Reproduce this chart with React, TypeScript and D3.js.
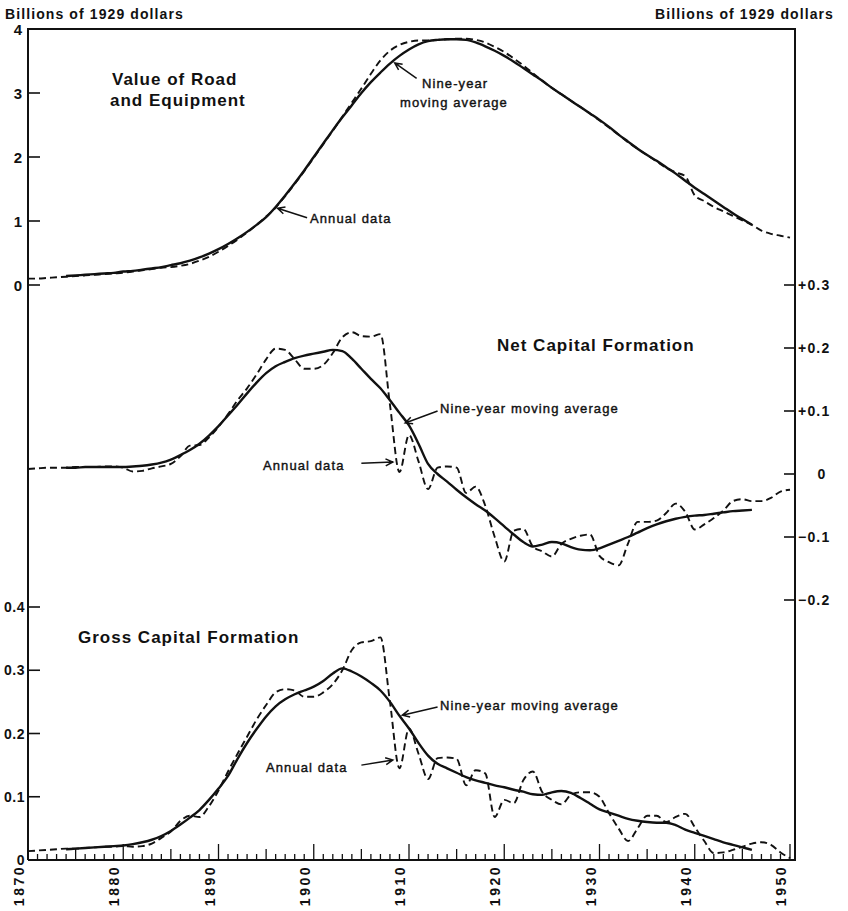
import * as d3 from 'd3';
import { useEffect, useRef } from 'react';

const WIDTH = 848;
const HEIGHT = 911;
const FONT = '"Liberation Sans", Arial, sans-serif';

// annual series run 1870..1950, nine-year averages 1874..1946
const FIRST_YEAR = 1870;
const MA_FIRST_YEAR = 1874;

const roadAnnual = [
  0.10, 0.10, 0.11, 0.12, 0.13, 0.14, 0.15, 0.16, 0.17, 0.18,
  0.19, 0.21, 0.23, 0.25, 0.27, 0.28, 0.30, 0.33, 0.38, 0.44,
  0.52, 0.61, 0.71, 0.82, 0.94, 1.07, 1.21, 1.39, 1.58, 1.78,
  1.99, 2.20, 2.41, 2.63, 2.85, 3.07, 3.30, 3.51, 3.66, 3.75,
  3.80, 3.82, 3.82, 3.83, 3.84, 3.85, 3.85, 3.83, 3.79, 3.72,
  3.64, 3.54, 3.43, 3.31, 3.19, 3.08, 2.98, 2.88, 2.78, 2.68,
  2.57, 2.46, 2.35, 2.23, 2.13, 2.03, 1.93, 1.83, 1.76, 1.70,
  1.40, 1.31, 1.22, 1.15, 1.08, 1.01, 0.94, 0.85, 0.80, 0.77,
  0.74,
];

const roadAverage = [
  0.14, 0.15, 0.16, 0.17, 0.18, 0.19,
  0.21, 0.22, 0.24, 0.26, 0.28, 0.31, 0.34, 0.38, 0.43, 0.49,
  0.56, 0.64, 0.73, 0.83, 0.94, 1.06, 1.22, 1.40, 1.59, 1.79,
  2.00, 2.21, 2.42, 2.62, 2.81, 3.00, 3.17, 3.32, 3.46, 3.58,
  3.68, 3.76, 3.81, 3.83, 3.84, 3.84, 3.83, 3.79, 3.73, 3.66,
  3.58, 3.49, 3.39, 3.29, 3.19, 3.08, 2.98, 2.88, 2.78, 2.68,
  2.58, 2.47, 2.35, 2.24, 2.13, 2.03, 1.94, 1.84, 1.74, 1.63,
  1.52, 1.42, 1.32, 1.22, 1.12, 1.03, 0.94,
];

const netAnnual = [
  0.008, 0.009, 0.010, 0.010, 0.010, 0.011, 0.011, 0.011, 0.012, 0.012,
  0.010, 0.004, 0.005, 0.009, 0.012, 0.016, 0.028, 0.045, 0.046, 0.058,
  0.075, 0.095, 0.117, 0.136, 0.158, 0.182, 0.199, 0.197, 0.182, 0.167,
  0.167, 0.173, 0.192, 0.217, 0.225, 0.219, 0.218, 0.222, 0.110, 0.003,
  0.062, 0.020, -0.024, 0.010, 0.012, 0.010, -0.030, -0.020, -0.050, -0.100,
  -0.139, -0.090, -0.087, -0.115, -0.123, -0.131, -0.111, -0.103, -0.098, -0.096,
  -0.130, -0.140, -0.145, -0.110, -0.076, -0.076, -0.074, -0.062, -0.047, -0.060,
  -0.088, -0.080, -0.070, -0.058, -0.043, -0.040, -0.043, -0.043, -0.038, -0.028,
  -0.025,
];

const netAverage = [
  0.010, 0.010, 0.011, 0.011, 0.011, 0.011,
  0.011, 0.012, 0.013, 0.015, 0.018, 0.023, 0.030, 0.038, 0.048, 0.061,
  0.076, 0.093, 0.110, 0.128, 0.145, 0.160, 0.171, 0.178, 0.184, 0.188,
  0.191, 0.194, 0.197, 0.195, 0.183, 0.167, 0.151, 0.136, 0.117, 0.097,
  0.077, 0.048, 0.016, 0.000, -0.012, -0.025, -0.037, -0.048, -0.058, -0.070,
  -0.083, -0.096, -0.108, -0.115, -0.112, -0.108, -0.110, -0.116, -0.120, -0.121,
  -0.118, -0.112, -0.106, -0.100, -0.093, -0.086, -0.080, -0.075, -0.071, -0.068,
  -0.066, -0.065, -0.063, -0.061, -0.059, -0.058, -0.057,
];

const grossAnnual = [
  0.014, 0.015, 0.016, 0.017, 0.018, 0.018, 0.019, 0.020, 0.021, 0.021,
  0.022, 0.021, 0.022, 0.026, 0.035, 0.045, 0.062, 0.070, 0.068, 0.085,
  0.110, 0.140, 0.168, 0.195, 0.222, 0.245, 0.265, 0.270, 0.268, 0.258,
  0.258, 0.265, 0.278, 0.300, 0.332, 0.344, 0.346, 0.352, 0.250, 0.145,
  0.208, 0.168, 0.128, 0.161, 0.162, 0.160, 0.118, 0.142, 0.137, 0.068,
  0.095, 0.090, 0.126, 0.140, 0.107, 0.095, 0.088, 0.103, 0.107, 0.107,
  0.100, 0.074, 0.050, 0.030, 0.050, 0.070, 0.070, 0.060, 0.068, 0.073,
  0.052, 0.030, 0.011, 0.012, 0.016, 0.021, 0.026, 0.028, 0.024, 0.012,
  0.003,
];

const grossAverage = [
  0.017, 0.018, 0.019, 0.020, 0.021, 0.022,
  0.023, 0.025, 0.028, 0.032, 0.038, 0.046, 0.056, 0.067, 0.079, 0.095,
  0.113, 0.133, 0.160, 0.185, 0.207, 0.227, 0.243, 0.254, 0.262, 0.268,
  0.274, 0.283, 0.295, 0.303, 0.298, 0.290, 0.280, 0.268, 0.250, 0.228,
  0.208, 0.185, 0.165, 0.152, 0.145, 0.138, 0.131, 0.126, 0.122, 0.118,
  0.115, 0.111, 0.108, 0.104, 0.103, 0.107, 0.109, 0.106, 0.098, 0.089,
  0.080, 0.075, 0.070, 0.065, 0.062, 0.060, 0.059, 0.059, 0.055, 0.048,
  0.043, 0.038, 0.033, 0.028, 0.024, 0.020, 0.016,
];

const decadeLabels = ['1870', '1880', '1890', '1900', '1910', '1920', '1930', '1940', '1950'];
const roadTicks = [0, 1, 2, 3, 4];
const netTicks = [-0.2, -0.1, 0, 0.1, 0.2, 0.3];
const grossTicks = [0, 0.1, 0.2, 0.3, 0.4];

type Pt = [number, number];

function toPoints(values: number[], start: number): Pt[] {
  return values.map((v, i) => [start + i, v]);
}

export default function App() {
  const ref = useRef<SVGSVGElement>(null);

  useEffect(() => {
    const el = ref.current;
    if (!el) return;
    const svg = d3.select(el);
    svg.selectAll('*').remove();

    const left = 28;
    const right = 795;
    const top = 29;
    const bottom = 860;

    const x = d3.scaleLinear().domain([1870, 1950]).range([28, 790]);
    const yRoad = d3.scaleLinear().domain([0, 4]).range([285, 29]);
    const yNet = d3.scaleLinear().domain([-0.2, 0.3]).range([600, 285]);
    const yGross = d3.scaleLinear().domain([0, 0.4]).range([860, 607]);

    const ink = '#111';

    // frame
    svg
      .append('path')
      .attr('d', `M${left},${bottom}V${top}H${right}V${bottom}H${left}`)
      .attr('fill', 'none')
      .attr('stroke', ink)
      .attr('stroke-width', 2);

    // year ticks along the bottom
    const years = d3.range(1870, 1951);
    svg
      .append('g')
      .selectAll('line')
      .data(years)
      .join('line')
      .attr('x1', (d) => x(d))
      .attr('x2', (d) => x(d))
      .attr('y1', bottom)
      .attr('y2', (d) => bottom - (d % 10 === 0 ? 16 : d % 5 === 0 ? 11 : 6))
      .attr('stroke', ink)
      .attr('stroke-width', 1.3);

    svg
      .append('g')
      .selectAll('text')
      .data(decadeLabels)
      .join('text')
      .attr('transform', (d) => `translate(${x(+d) - 4},${bottom + 5}) rotate(-90)`)
      .attr('text-anchor', 'end')
      .style('font', `bold 14px ${FONT}`)
      .style('letter-spacing', '2.5px')
      .attr('fill', ink)
      .text((d) => d);

    // left axis, top panel
    const gl = svg.append('g');
    roadTicks.forEach((t) => {
      gl.append('line')
        .attr('x1', left)
        .attr('x2', left + 12)
        .attr('y1', yRoad(t))
        .attr('y2', yRoad(t))
        .attr('stroke', ink)
        .attr('stroke-width', 1.6);
      gl.append('text')
        .attr('x', left - 6)
        .attr('y', yRoad(t) + 5.5)
        .attr('text-anchor', 'end')
        .style('font', `bold 15px ${FONT}`)
        .attr('fill', ink)
        .text(String(t));
    });

    // left axis, bottom panel
    grossTicks.forEach((t) => {
      gl.append('line')
        .attr('x1', left)
        .attr('x2', left + 12)
        .attr('y1', yGross(t))
        .attr('y2', yGross(t))
        .attr('stroke', ink)
        .attr('stroke-width', 1.6);
      gl.append('text')
        .attr('x', left - 3)
        .attr('y', yGross(t) + 5)
        .attr('text-anchor', 'end')
        .style('font', `bold 14px ${FONT}`)
        .style('letter-spacing', '0.5px')
        .attr('fill', ink)
        .text(t === 0 ? '0' : d3.format('.1f')(t));
    });

    // right axis, middle panel
    netTicks.forEach((t) => {
      gl.append('line')
        .attr('x1', right - 11)
        .attr('x2', right)
        .attr('y1', yNet(t))
        .attr('y2', yNet(t))
        .attr('stroke', ink)
        .attr('stroke-width', 1.6);
      const label =
        t === 0 ? '0' : t > 0 ? `+${d3.format('.1f')(t)}` : `\u2212${d3.format('.1f')(-t)}`;
      gl.append('text')
        .attr('x', t === 0 ? right + 27 : right + 3)
        .attr('y', yNet(t) + 5)
        .attr('text-anchor', t === 0 ? 'middle' : 'start')
        .style('font', `bold 14px ${FONT}`)
        .style('letter-spacing', '1.2px')
        .attr('fill', ink)
        .text(label);
    });

    // headers
    const header = (hx: number, anchor: string) =>
      svg
        .append('text')
        .attr('x', hx)
        .attr('y', 19)
        .attr('text-anchor', anchor)
        .style('font', `bold 14px ${FONT}`)
        .style('letter-spacing', '1.1px')
        .attr('fill', ink)
        .text('Billions of 1929 dollars');
    header(5, 'start');
    header(834, 'end');

    const panels = [
      { y: yRoad, annual: roadAnnual, avg: roadAverage },
      { y: yNet, annual: netAnnual, avg: netAverage },
      { y: yGross, annual: grossAnnual, avg: grossAverage },
    ];

    panels.forEach((p) => {
      const line = d3
        .line<Pt>()
        .x((d) => x(d[0]))
        .y((d) => p.y(d[1]))
        .curve(d3.curveMonotoneX);
      svg
        .append('path')
        .attr('d', line(toPoints(p.annual, FIRST_YEAR)) ?? '')
        .attr('fill', 'none')
        .attr('stroke', ink)
        .attr('stroke-width', 1.9)
        .attr('stroke-dasharray', '7 4');
      svg
        .append('path')
        .attr('d', line(toPoints(p.avg, MA_FIRST_YEAR)) ?? '')
        .attr('fill', 'none')
        .attr('stroke', ink)
        .attr('stroke-width', 2.4)
        .attr('stroke-linejoin', 'round');
    });

    // titles
    const title = (tx: number, ty: number, s: string) =>
      svg
        .append('text')
        .attr('x', tx)
        .attr('y', ty)
        .style('font', `bold 17px ${FONT}`)
        .style('letter-spacing', '1px')
        .attr('fill', ink)
        .text(s);
    title(112, 85, 'Value of Road');
    title(110, 106, 'and Equipment');
    title(497, 351, 'Net Capital Formation');
    title(78, 643, 'Gross Capital Formation');

    const label = (lx: number, ly: number, s: string) =>
      svg
        .append('text')
        .attr('x', lx)
        .attr('y', ly)
        .style('font', `13px ${FONT}`)
        .style('letter-spacing', '1.1px')
        .attr('fill', ink)
        .attr('stroke', ink)
        .attr('stroke-width', 0.4)
        .text(s);

    // annotation arrow: tip in data space, tail a little way off
    const arrow = (tip: Pt, tail: Pt) => {
      const dx = tip[0] - tail[0];
      const dy = tip[1] - tail[1];
      const len = Math.hypot(dx, dy);
      const ux = dx / len;
      const uy = dy / len;
      const head = 8;
      const a = 0.45;
      const ax = tip[0] - head * (ux * Math.cos(a) - uy * Math.sin(a));
      const ay = tip[1] - head * (uy * Math.cos(a) + ux * Math.sin(a));
      const bx = tip[0] - head * (ux * Math.cos(a) + uy * Math.sin(a));
      const by = tip[1] - head * (uy * Math.cos(a) - ux * Math.sin(a));
      svg
        .append('path')
        .attr('d', `M${tail[0]},${tail[1]}L${tip[0]},${tip[1]}M${ax},${ay}L${tip[0]},${tip[1]}L${bx},${by}`)
        .attr('fill', 'none')
        .attr('stroke', ink)
        .attr('stroke-width', 1.5);
    };

    arrow([x(1908.5), yRoad(3.47)], [x(1910.8), yRoad(3.23)]);
    label(422, 88, 'Nine-year');
    label(400, 107, 'moving average');
    arrow([x(1896.2), yRoad(1.2)], [x(1899.3), yRoad(1.05)]);
    label(310, 223, 'Annual data');

    arrow([x(1909.6), yNet(0.081)], [x(1913), yNet(0.1)]);
    label(440, 413, 'Nine-year moving average');
    arrow([x(1908.3), yNet(0.019)], [x(1905), yNet(0.017)]);
    label(263, 470, 'Annual data');

    arrow([x(1909.3), yGross(0.229)], [x(1913), yGross(0.242)]);
    label(440, 710, 'Nine-year moving average');
    arrow([x(1908.3), yGross(0.158)], [x(1905), yGross(0.15)]);
    label(266, 772, 'Annual data');
  }, []);

  return (
    <svg
      ref={ref}
      width={WIDTH}
      height={HEIGHT}
      style={{ position: 'absolute', left: 0, top: 0, background: '#fff' }}
    />
  );
}
